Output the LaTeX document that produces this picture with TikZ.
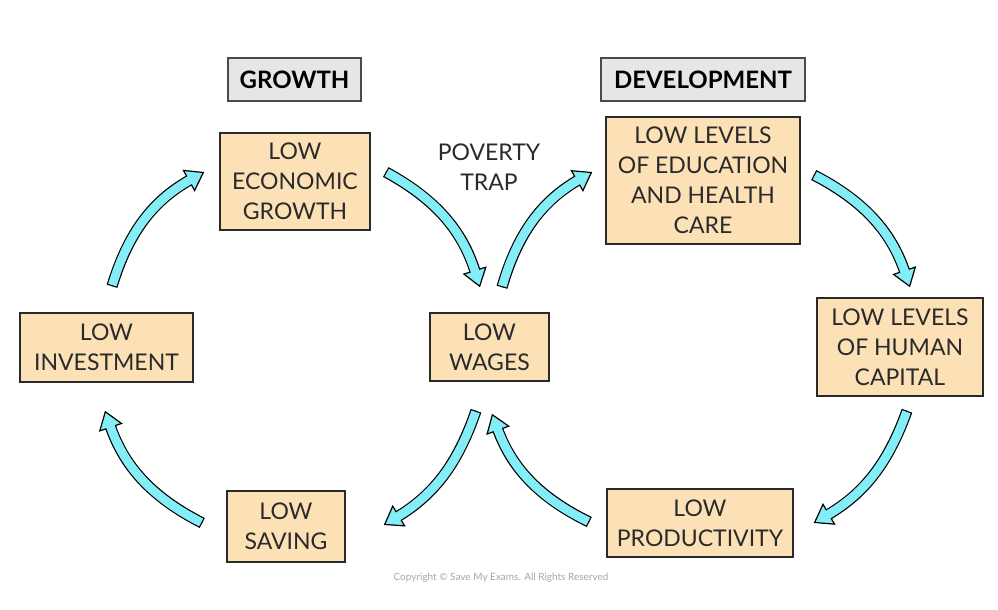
\documentclass[tikz,border=0pt]{standalone}
\usepackage{fontspec}
\setmainfont{Lato}
\usetikzlibrary{arrows.meta,calc}

\definecolor{boxfill}{HTML}{FCE1B7}
\definecolor{headfill}{HTML}{E6E6E7}
\definecolor{flowcyan}{HTML}{84EEF8}
\definecolor{inkdark}{HTML}{2A2A2A}

\tikzset{
  box/.style={draw=inkdark, line width=0.75pt, fill=boxfill, align=center,
    inner sep=0pt, text=inkdark, font=\fontsize{11.5}{15}\selectfont},
  head/.style={draw=inkdark!85, line width=0.75pt, fill=headfill, inner sep=0pt,
    text=black, font=\bfseries\fontsize{12}{15}\selectfont},
  flow/.style={draw=black, line width=0.6pt,
    -{Triangle[width=12.5pt,length=9pt,fill=flowcyan]},
    preaction={draw=black, line width=5.6pt, -, shorten >=8pt},
    postaction={draw=flowcyan, line width=4.4pt, -, shorten >=7.5pt, shorten <=0.6pt}},
}

\begin{document}
\begin{tikzpicture}[x=0.5pt, y=-0.5pt]
    \useasboundingbox (0,0) rectangle (998,610);

    % headings
    \node[head, minimum width=66.5pt, minimum height=21.5pt] (grw) at (294.5,79.5) {GROWTH};
    \node[head, minimum width=102pt, minimum height=21.5pt] (dev) at (703,79.5) {DEVELOPMENT};

    % the two cycles
    \node[box, minimum width=75pt, minimum height=48.5pt] (econ) at (295,181.5) {LOW\\ECONOMIC\\GROWTH};
    \node[box, minimum width=97pt, minimum height=63.5pt] (edu) at (703,180.5) {LOW LEVELS\\OF EDUCATION\\AND HEALTH\\CARE};
    \node[box, minimum width=83pt, minimum height=49pt] (human) at (900,347) {LOW LEVELS\\OF HUMAN\\CAPITAL};
    \node[box, minimum width=93pt, minimum height=34pt] (prod) at (700,523) {LOW\\PRODUCTIVITY};
    \node[box, minimum width=59pt, minimum height=35.5pt] (saving) at (286,526.5) {LOW\\SAVING};
    \node[box, minimum width=59.5pt, minimum height=34pt] (wages) at (489.5,347) {LOW\\WAGES};
    \node[box, minimum width=86.5pt, minimum height=34.5pt] (inv) at (106.5,347.5) {LOW\\INVESTMENT};

    \node[align=center, text=inkdark, font=\fontsize{11.5}{15}\selectfont] (trap) at (489,167.5) {POVERTY\\TRAP};

    % arrows
    \draw[flow] ($(inv.north)+(5.5,-26)$) to[bend left=22] ($(econ.west)+(-15,-9.5)$);
    \draw[flow] ($(econ.east)+(15,-9.5)$) to[bend left=22] ($(wages.north)+(-9.5,-25)$);
    \draw[flow] ($(wages.north)+(12.5,-25)$) to[bend left=22] ($(edu.west)+(-13,-8.5)$);
    \draw[flow] ($(edu.east)+(13,-5.5)$) to[bend left=22] ($(human.north)+(10,-10)$);
    \draw[flow] ($(human.south)+(7,14)$) to[bend left=20] ($(prod.east)+(20,0)$);
    \draw[flow] ($(prod.west)+(-17,-1)$) to[bend left=22] ($(wages.south)+(2.5,32)$);
    \draw[flow] ($(wages.south)+(-13.5,29)$) to[bend left=20] ($(saving.east)+(38,-1.5)$);
    \draw[flow] ($(saving.west)+(-24,-3.5)$) to[bend left=22] ($(inv.south)+(-1.5,28)$);

    \node[text=black!35, font=\fontsize{5}{6}\selectfont] (copy) at (501,578) {Copyright © Save My Exams. All Rights Reserved};
\end{tikzpicture}
\end{document}
